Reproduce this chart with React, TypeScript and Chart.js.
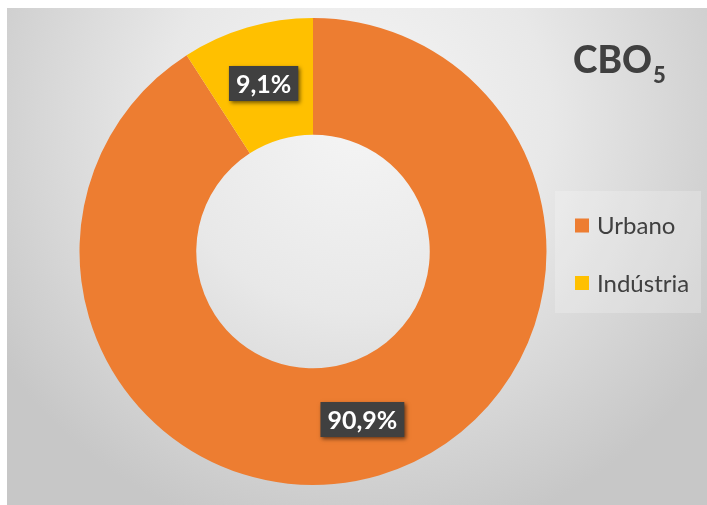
import React, { useEffect, useRef } from "react";
import { Chart, registerables } from "chart.js";

Chart.register(...registerables);

const categories = ["Urbano", "Indústria"];
const values = [90.9, 9.1];
const sliceColors = ["#ED7D31", "#FFC000"];
const titleMain = "CBO";
const titleSub = "5";

const FONT = "Lato, 'Open Sans', 'DejaVu Sans', sans-serif";
const fmt = (v: number) => v.toFixed(1).replace(".", ",") + "%";

const bgPlugin = {
  id: "bgPlugin",
  beforeDraw(chart: any) {
    const { ctx, width, height } = chart;
    ctx.save();
    const g = ctx.createRadialGradient(350, 110, 0, 350, 110, 430);
    g.addColorStop(0, "#f5f5f5");
    g.addColorStop(0.45, "#e8e8e8");
    g.addColorStop(1, "#c7c7c7");
    ctx.fillStyle = g;
    ctx.fillRect(0, 0, width, height);
    ctx.restore();
  },
};

const decorPlugin = {
  id: "decorPlugin",
  afterDraw(chart: any) {
    const { ctx } = chart;
    ctx.save();
    // title
    ctx.fillStyle = "#404040";
    ctx.textBaseline = "alphabetic";
    ctx.textAlign = "left";
    ctx.font = `900 37px ${FONT}`;
    ctx.fillText(titleMain, 566, 65);
    const w = ctx.measureText(titleMain).width;
    ctx.font = `900 22px ${FONT}`;
    ctx.fillText(titleSub, 566 + w + 1, 75);

    // legend box
    ctx.fillStyle = "rgba(255,255,255,0.22)";
    ctx.fillRect(548, 183, 146, 122);
    const labels = chart.data.labels as string[];
    const bg = chart.data.datasets[0].backgroundColor as string[];
    const ys = [217.5, 275];
    labels.forEach((lab, i) => {
      ctx.fillStyle = bg[i];
      ctx.fillRect(568, ys[i] - 7, 14, 14);
      ctx.fillStyle = "#404040";
      ctx.font = `24px ${FONT}`;
      ctx.textBaseline = "middle";
      ctx.fillText(lab, 590, ys[i] + 1);
    });

    // data labels
    const meta = chart.getDatasetMeta(0);
    const data = chart.data.datasets[0].data as number[];
    meta.data.forEach((arc: any, i: number) => {
      const p = arc.tooltipPosition();
      const txt = fmt(data[i]);
      ctx.font = `bold 25px ${FONT}`;
      const tw = ctx.measureText(txt).width;
      const bw = tw + 14;
      const bh = 35;
      ctx.save();
      ctx.shadowColor = "rgba(0,0,0,0.55)";
      ctx.shadowBlur = 4;
      ctx.shadowOffsetX = 2;
      ctx.shadowOffsetY = 2;
      ctx.fillStyle = "#404040";
      ctx.fillRect(p.x - bw / 2, p.y - bh / 2, bw, bh);
      ctx.restore();
      ctx.fillStyle = "#ffffff";
      ctx.textAlign = "center";
      ctx.textBaseline = "middle";
      ctx.fillText(txt, p.x, p.y + 1);
      ctx.textAlign = "left";
    });
    ctx.restore();
  },
};

export default function App() {
  const ref = useRef<HTMLCanvasElement | null>(null);
  useEffect(() => {
    if (!ref.current) return;
    const chart = new Chart(ref.current, {
      type: "doughnut",
      data: {
        labels: categories,
        datasets: [
          {
            data: values,
            backgroundColor: sliceColors,
            borderWidth: 0,
          },
        ],
      },
      options: {
        animation: false,
        responsive: false,
        devicePixelRatio: 1,
        cutout: "50%",
        layout: { padding: { top: 10, bottom: 20, left: 0, right: 88 } },
        plugins: {
          legend: { display: false },
          tooltip: { enabled: false },
          title: { display: false },
        },
      },
      plugins: [bgPlugin, decorPlugin],
    });
    return () => chart.destroy();
  }, []);
  return (
    <div style={{ position: "absolute", left: 7, top: 8, width: 700, height: 497 }}>
      <canvas ref={ref} width={700} height={497} style={{ display: "block" }} />
    </div>
  );
}
